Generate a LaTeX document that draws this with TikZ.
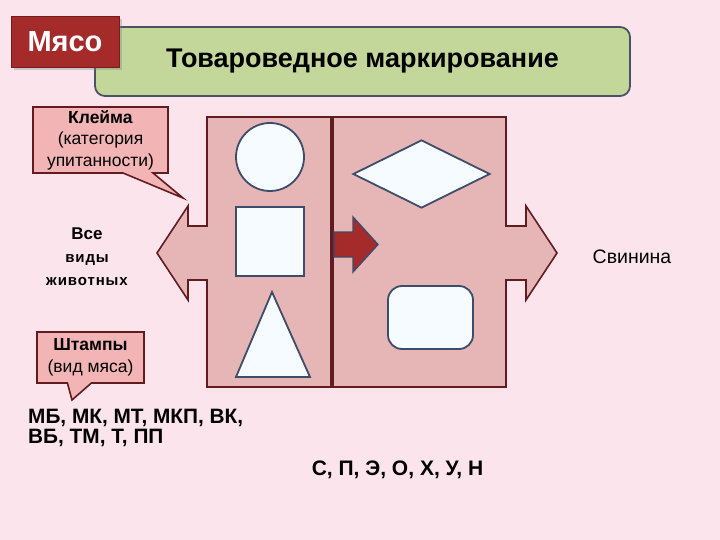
\documentclass[tikz,border=0pt]{standalone}
\usepackage{fontspec}
\setmainfont{Liberation Sans}
\usetikzlibrary{shapes.geometric,shapes.callouts,shadows}
\definecolor{slide}{RGB}{252,228,236}
\definecolor{arrowpink}{RGB}{230,182,182}
\definecolor{darkrim}{RGB}{96,28,32}
\definecolor{slate}{RGB}{62,76,108}
\definecolor{meatred}{RGB}{165,42,42}
\definecolor{plategreen}{RGB}{196,215,155}
\definecolor{platerim}{RGB}{72,84,100}
\definecolor{calloutpink}{RGB}{242,180,180}
\definecolor{signwhite}{RGB}{246,251,255}
\tikzset{
  signshape/.style={draw=slate,line width=1.8pt,fill=signwhite,inner sep=0pt},
  callbox/.style={rectangle callout,draw=darkrim,line width=1.6pt,fill=calloutpink,
    align=center,inner sep=0pt,font=\fontsize{17.5}{21.5}\selectfont},
  codes/.style={font=\fontsize{20.8}{20}\selectfont\bfseries,align=left,inner sep=0pt}
}
\begin{document}
\begin{tikzpicture}[x=1pt,y=-1pt]
  \useasboundingbox[fill=slide] (0,0) rectangle (720,540);
  \node[draw=platerim,line width=1.8pt,fill=plategreen,rounded corners=10pt,
    minimum width=535pt,minimum height=69pt,font=\fontsize{27}{30}\selectfont\bfseries]
    (title) at (362.5,61.5) {Товароведное маркирование};
  \node[fill=meatred,draw=meatred!70!black,minimum width=108pt,minimum height=51pt,
    drop shadow={opacity=0.35},text=white,font=\fontsize{29}{30}\selectfont\bfseries]
    (meat) at (65,41.5) {Мясо};
  \draw[darkrim,fill=arrowpink,line width=1.6pt]
    (207,117) -- (506,117) -- (506,226) -- (526,226) -- (526,206) -- (557,253)
    -- (526,300) -- (526,280) -- (506,280) -- (506,387) -- (207,387) -- (207,280)
    -- (188,280) -- (188,300) -- (157,253) -- (188,206) -- (188,226) -- (207,226) -- cycle;
  \draw[darkrim,line width=4pt] (332,117) -- (332,387);
  \node[signshape,circle,minimum size=68pt] (round) at (270,157) {};
  \node[signshape,minimum width=68pt,minimum height=69pt] (square) at (270,241.5) {};
  \draw[signshape] (272,292) -- (310,377) -- (236,377) -- cycle;
  \node[signshape,diamond,minimum width=137pt,minimum height=68pt] (rhomb) at (421.5,174) {};
  \node[signshape,rounded corners=14pt,minimum width=85pt,minimum height=63pt] (oval) at (430.5,317.5) {};
  \draw[slate,line width=1.4pt,fill=meatred]
    (334,232) -- (353,232) -- (353,217) -- (378,244.5) -- (353,272) -- (353,257) -- (334,257) -- cycle;
  \node[callbox,minimum width=135pt,minimum height=66pt,callout pointer width=30pt,
    callout absolute pointer={(183,198)}] (brand) at (100.5,140)
    {\textbf{Клейма}\\(категория\\упитанности)};
  \node[callbox,minimum width=107pt,minimum height=51pt,callout pointer width=24pt,
    callout absolute pointer={(72,400)}] (stamp) at (90.5,357.5)
    {\textbf{Штампы}\\(вид мяса)};
  \node[align=center,inner sep=0pt,font=\fontsize{15}{23}\selectfont\bfseries\addfontfeature{LetterSpace=6}]
    (animals) at (87,257) {{\fontsize{17}{23}\selectfont\addfontfeature{LetterSpace=0}Все}\\виды\\животных};
  \node[inner sep=0pt,font=\fontsize{19.5}{20}\selectfont] (pork) at (632,257) {Свинина};
  \node[codes,anchor=west] (meatcodes) at (28,428) {МБ, МК, МТ, МКП, ВК,\\ВБ, ТМ, Т, ПП};
  \node[codes,font=\fontsize{21}{20}\selectfont\bfseries] (porkcodes) at (397.5,470) {С, П, Э, О, Х, У, Н};
\end{tikzpicture}
\end{document}
